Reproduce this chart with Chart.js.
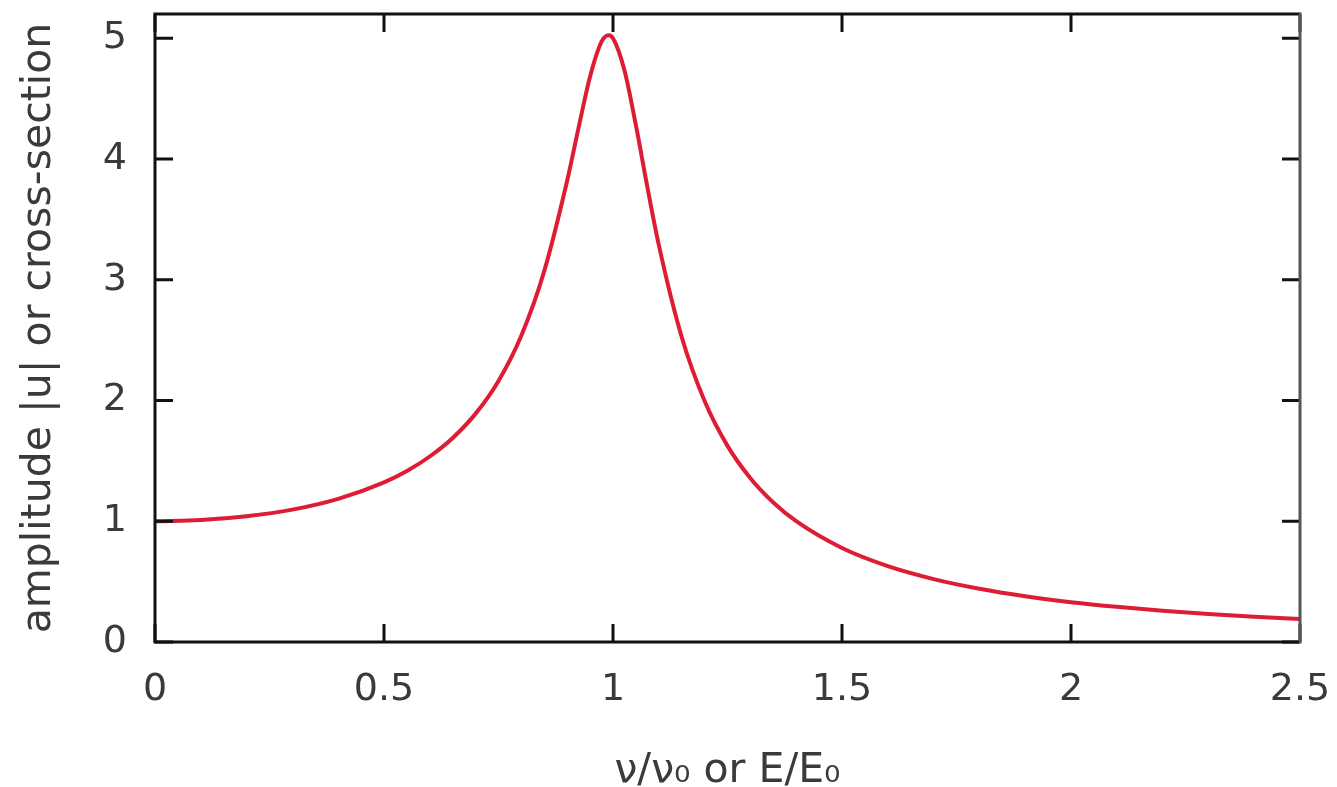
<!DOCTYPE html>
<html>
<head>
<meta charset="utf-8">
<script src="https://cdn.jsdelivr.net/npm/chart.js@4/dist/chart.umd.min.js"></script>
<style>
  body { margin: 0; background: #fff; }
  canvas { display: block; }
</style>
</head>
<body>
<canvas id="resonanceChart" width="1337" height="787"></canvas>
<script>
// values
const ratio = [0, 0.1, 0.2, 0.3, 0.4, 0.5, 0.55, 0.6, 0.65, 0.7, 0.75, 0.8, 0.85, 0.9, 0.925, 0.95, 0.975, 0.99,
    1.0, 1.025, 1.05, 1.075, 1.1, 1.15, 1.2, 1.25, 1.3, 1.35, 1.4, 1.5, 1.6, 1.7, 1.8, 1.9, 2.0, 2.1, 2.2, 2.3, 2.4, 2.5];
const amplitude = [1.0, 1.01, 1.041, 1.096, 1.185, 1.322, 1.416, 1.536, 1.689, 1.891, 2.162, 2.538, 3.073, 3.821, 4.261, 4.683, 4.971, 5.025,
    5.0, 4.735, 4.279, 3.768, 3.288, 2.525, 1.995, 1.624, 1.356, 1.155, 1.0, 0.778, 0.628, 0.521, 0.441, 0.379, 0.33, 0.291, 0.259, 0.232, 0.209, 0.19];
const xTicks = [0, 0.5, 1, 1.5, 2, 2.5];
const yTicks = [0, 1, 2, 3, 4, 5];

const tickFont = { family: 'DejaVu Sans', size: 38 };
const titleFont = { family: 'DejaVu Sans', size: 41 };
const textColor = '#3a3a3a';

// gnuplot style frame with inward ticks on all sides
const framePlugin = {
    id: 'frame',
    afterDraw(chart) {
        const c = chart.ctx;
        const a = chart.chartArea;
        const xs = chart.scales.x, ys = chart.scales.y;
        const len = 18;
        c.save();
        c.strokeStyle = '#111';
        c.lineWidth = 3;
        c.beginPath();
        xTicks.forEach(v => {
            const px = xs.getPixelForValue(v);
            c.moveTo(px, a.bottom); c.lineTo(px, a.bottom - len);
            c.moveTo(px, a.top); c.lineTo(px, a.top + len);
        });
        yTicks.forEach(v => {
            const py = ys.getPixelForValue(v);
            c.moveTo(a.left, py); c.lineTo(a.left + len, py);
            c.moveTo(a.right, py); c.lineTo(a.right - len, py);
        });
        c.stroke();
        c.beginPath();
        c.moveTo(a.right, a.top);
        c.lineTo(a.left, a.top);
        c.lineTo(a.left, a.bottom);
        c.lineTo(a.right, a.bottom);
        c.stroke();
        c.strokeStyle = '#555';
        c.beginPath();
        c.moveTo(a.right, a.top - 1.5);
        c.lineTo(a.right, a.bottom + 1.5);
        c.stroke();
        c.restore();
    }
};

document.addEventListener("DOMContentLoaded", function () {
    const ctx = document.getElementById('resonanceChart').getContext('2d');
    const points = ratio.map((r, i) => ({ x: r, y: amplitude[i] }));

    new Chart(ctx, {
        type: 'line',
        data: {
            datasets: [{
                data: points,
                borderColor: 'rgb(222, 28, 52)',
                borderWidth: 4,
                pointRadius: 0,
                cubicInterpolationMode: 'monotone',
                fill: false
            }]
        },
        options: {
            responsive: false,
            animation: false,
            layout: { padding: { top: 14, right: 37, left: 0, bottom: 0 } },
            plugins: { legend: { display: false }, tooltip: { enabled: false } },
            scales: {
                x: {
                    type: 'linear',
                    min: 0,
                    max: 2.5,
                    afterBuildTicks: s => { s.ticks = xTicks.map(v => ({ value: v })); },
                    afterFit: s => { s.height = 145; s.paddingLeft = 0; s.paddingRight = 0; },
                    grid: { display: false },
                    border: { display: false },
                    ticks: { font: tickFont, color: textColor, padding: 17, maxRotation: 0, callback: v => String(v) },
                    title: {
                        display: true,
                        text: 'ν/ν₀ or E/E₀',
                        font: titleFont,
                        color: textColor,
                        padding: { top: 10, bottom: -9 }
                    }
                },
                y: {
                    min: 0,
                    max: 5.2,
                    afterBuildTicks: s => { s.ticks = yTicks.map(v => ({ value: v })); },
                    afterFit: s => { s.width = 155; s.paddingTop = 0; s.paddingBottom = 0; },
                    grid: { display: false },
                    border: { display: false },
                    ticks: { font: tickFont, color: textColor, padding: 20, callback: v => String(v) },
                    title: {
                        display: true,
                        text: 'amplitude |u| or cross-section',
                        font: titleFont,
                        color: textColor,
                        padding: { top: 15, bottom: 0 }
                    }
                }
            }
        },
        plugins: [framePlugin]
    });
});
</script>
</body>
</html>
